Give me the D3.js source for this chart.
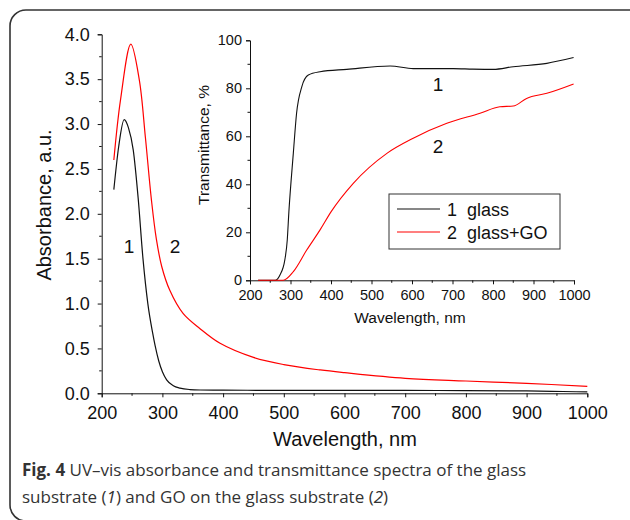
<!DOCTYPE html>
<html>
<head>
<meta charset="utf-8">
<script src="https://cdn.jsdelivr.net/npm/d3@7"></script>
<style>
  body { margin: 0; background: #fff; }
  text { font-family: "Liberation Sans", Arial, sans-serif; fill: #111; }
  .caption text { font-family: "Open Sans", sans-serif; fill: #333; }
</style>
</head>
<body>
<div id="chart"></div>
<script>
// absorbance spectra (main plot)
const absGlassWl  = [220, 228, 237, 244, 252, 260, 268, 276, 284, 288, 294, 300, 307, 318, 329, 345, 362, 400, 500, 600, 700, 800, 900, 960, 1000]
const absGlassVal = [2.27, 2.75, 3.05, 2.96, 2.71, 2.18, 1.50, 1.00, 0.67, 0.53, 0.36, 0.24, 0.15, 0.085, 0.058, 0.042, 0.037, 0.035, 0.033, 0.033, 0.032, 0.030, 0.027, 0.020, 0.015]
const absGoWl  = [220, 231, 248, 262, 272, 282, 290, 299, 312, 334, 362, 395, 450, 500, 560, 600, 700, 800, 900, 1000]
const absGoVal = [2.60, 3.27, 3.89, 3.49, 2.85, 2.15, 1.72, 1.41, 1.15, 0.89, 0.72, 0.557, 0.40, 0.32, 0.26, 0.23, 0.167, 0.137, 0.111, 0.078]

// transmittance spectra (inset)
const trGlassWl  = [220, 262, 274, 286, 292, 296, 307, 315, 328, 344, 373, 439, 546, 603, 702, 750, 801, 850, 933, 999]
const trGlassVal = [0, 0, 2.2, 8.5, 16.8, 28.5, 53, 69.6, 80.7, 85.5, 86.9, 87.9, 89.3, 88.2, 88.2, 88.0, 87.9, 89.0, 90.4, 92.8]
const trGoWl  = [220, 282, 307, 340, 373, 400, 455, 538, 603, 686, 768, 817, 850, 883, 933, 999]
const trGoVal = [0, 0, 3.6, 12.6, 21, 28.5, 40.4, 52.9, 59.2, 65.4, 69.6, 72.3, 72.6, 75.8, 77.9, 81.8]

const mainXTicks = [200, 300, 400, 500, 600, 700, 800, 900, 1000]
const mainYTicks = [0, 0.5, 1, 1.5, 2, 2.5, 3, 3.5, 4]
const insetXTicks = [200, 300, 400, 500, 600, 700, 800, 900, 1000]
const insetYTicks = [0, 20, 40, 60, 80, 100]

const legendNums = ['1', '2']
const legendLabels = ['glass', 'glass+GO']
const seriesColors = ['#111111', '#ff0000']

const width = 630, height = 520

const svg = d3.select('#chart')
    .append('svg')
    .attr('width', width)
    .attr('height', height)

// rounded frame around the figure
svg.append('rect')
    .attr('x', 10).attr('y', 10)
    .attr('width', 640).attr('height', 511)
    .attr('rx', 16)
    .attr('fill', 'none')
    .attr('stroke', '#333')
    .attr('stroke-width', 1.6)

function zip(xs, ys) {
    return xs.map((x, i) => ({x: x, y: ys[i]}))
}

function drawAxes(g, x, y, opts) {
    const xAxis = g.append('g')
        .attr('transform', `translate(0, ${y.range()[0]})`)
        .call(d3.axisBottom(x).tickValues(opts.xTicks).tickSize(4).tickPadding(opts.xPad).tickFormat(d3.format('d')))
    xAxis.append('g').selectAll('line')
        .data(opts.xMinor)
        .join('line')
        .attr('x1', d => x(d)).attr('x2', d => x(d))
        .attr('y1', 0).attr('y2', 2.5)
        .attr('stroke', '#111')
    const yAxis = g.append('g')
        .attr('transform', `translate(${x.range()[0]}, 0)`)
        .call(d3.axisLeft(y).tickValues(opts.yTicks).tickSize(4).tickPadding(opts.yPad).tickFormat(opts.fmtY))
    yAxis.append('g').selectAll('line')
        .data(opts.yMinor)
        .join('line')
        .attr('y1', d => y(d)).attr('y2', d => y(d))
        .attr('x1', 0).attr('x2', -2.5)
        .attr('stroke', '#111')
    ;[xAxis, yAxis].forEach(a => {
        a.select('.domain').attr('stroke', '#111')
        a.selectAll('.tick line').attr('stroke', '#111')
        a.selectAll('.tick text')
            .attr('font-size', opts.fontSize)
            .attr('fill', '#111')
    })
}

// ---------- main plot ----------
const x = d3.scaleLinear().domain([200, 1000]).range([101.7, 587.3])
const y = d3.scaleLinear().domain([0, 4]).range([393.3, 34.3])

const main = svg.append('g')
drawAxes(main, x, y, {
    xTicks: mainXTicks, yTicks: mainYTicks,
    xMinor: d3.range(250, 1000, 100), yMinor: d3.range(0.25, 4, 0.5),
    fontSize: 18, xPad: 9, yPad: 8, fmtY: d3.format('.1f')
})

const line = d3.line()
    .x(d => x(d.x))
    .y(d => y(d.y))
    .curve(d3.curveMonotoneX)

main.append('path')
    .datum(zip(absGlassWl, absGlassVal))
    .attr('d', line)
    .attr('fill', 'none')
    .attr('stroke', seriesColors[0])
    .attr('stroke-width', 1.2)

main.append('path')
    .datum(zip(absGoWl, absGoVal))
    .attr('d', line.curve(d3.curveCatmullRom.alpha(0.5)))
    .attr('fill', 'none')
    .attr('stroke', seriesColors[1])
    .attr('stroke-width', 1.2)

main.append('text')
    .attr('transform', `translate(51, 205) rotate(-90)`)
    .attr('text-anchor', 'middle')
    .attr('font-size', 20)
    .text('Absorbance, a.u.')

main.append('text')
    .attr('x', 345)
    .attr('y', 446)
    .attr('text-anchor', 'middle')
    .attr('font-size', 20)
    .text('Wavelength, nm')

main.append('text').attr('x', 129).attr('y', 253)
    .attr('text-anchor', 'middle').attr('font-size', 19).text('1')
main.append('text').attr('x', 175).attr('y', 253)
    .attr('text-anchor', 'middle').attr('font-size', 19).text('2')

// ---------- inset ----------
const xi = d3.scaleLinear().domain([200, 1000]).range([250, 574])
const yi = d3.scaleLinear().domain([0, 100]).range([280.3, 40.3])

const inset = svg.append('g')
drawAxes(inset, xi, yi, {
    xTicks: insetXTicks, yTicks: insetYTicks,
    xMinor: d3.range(250, 1000, 100), yMinor: d3.range(10, 100, 20),
    fontSize: 14.5, xPad: 5, yPad: 4, fmtY: d3.format('d')
})

const lineI = d3.line()
    .x(d => xi(d.x))
    .y(d => yi(d.y))
    .curve(d3.curveMonotoneX)

inset.append('path')
    .datum(zip(trGlassWl, trGlassVal))
    .attr('d', lineI)
    .attr('fill', 'none')
    .attr('stroke', seriesColors[0])
    .attr('stroke-width', 1.1)

inset.append('path')
    .datum(zip(trGoWl, trGoVal))
    .attr('d', lineI)
    .attr('fill', 'none')
    .attr('stroke', seriesColors[1])
    .attr('stroke-width', 1.1)

inset.append('text')
    .attr('transform', `translate(209, 145) rotate(-90)`)
    .attr('text-anchor', 'middle')
    .attr('font-size', 15.5)
    .text('Transmittance, %')

inset.append('text')
    .attr('x', 410)
    .attr('y', 323)
    .attr('text-anchor', 'middle')
    .attr('font-size', 15.5)
    .text('Wavelength, nm')

inset.append('text').attr('x', 438).attr('y', 91)
    .attr('text-anchor', 'middle').attr('font-size', 19).text('1')
inset.append('text').attr('x', 438).attr('y', 153)
    .attr('text-anchor', 'middle').attr('font-size', 19).text('2')

// legend
const legend = inset.append('g').attr('transform', 'translate(389, 194)')
legend.append('rect')
    .attr('width', 171).attr('height', 55)
    .attr('fill', '#fff')
    .attr('stroke', '#333')
    .attr('stroke-width', 1)
const items = legend.selectAll('g.item')
    .data(legendLabels)
    .join('g')
    .attr('class', 'item')
    .attr('transform', (d, i) => `translate(0, ${15 + i * 23})`)
items.append('line')
    .attr('x1', 8).attr('x2', 51)
    .attr('stroke', (d, i) => seriesColors[i])
    .attr('stroke-width', 1.2)
items.append('text')
    .attr('x', 58).attr('y', 6.5)
    .attr('font-size', 18)
    .text((d, i) => legendNums[i])
items.append('text')
    .attr('x', 78).attr('y', 6.5)
    .attr('font-size', 18)
    .text(d => d)

// caption
const cap = svg.append('g').attr('class', 'caption')
const t1 = cap.append('text').attr('x', 22).attr('y', 476).attr('font-size', 17)
t1.append('tspan').attr('font-weight', 'bold').text('Fig. 4')
t1.append('tspan').text(' UV–vis absorbance and transmittance spectra of the glass')
const t2 = cap.append('text').attr('x', 22).attr('y', 503).attr('font-size', 17)
t2.append('tspan').text('substrate (')
t2.append('tspan').attr('font-style', 'italic').text('1')
t2.append('tspan').text(') and GO on the glass substrate (')
t2.append('tspan').attr('font-style', 'italic').text('2')
t2.append('tspan').text(')')
</script>
</body>
</html>
